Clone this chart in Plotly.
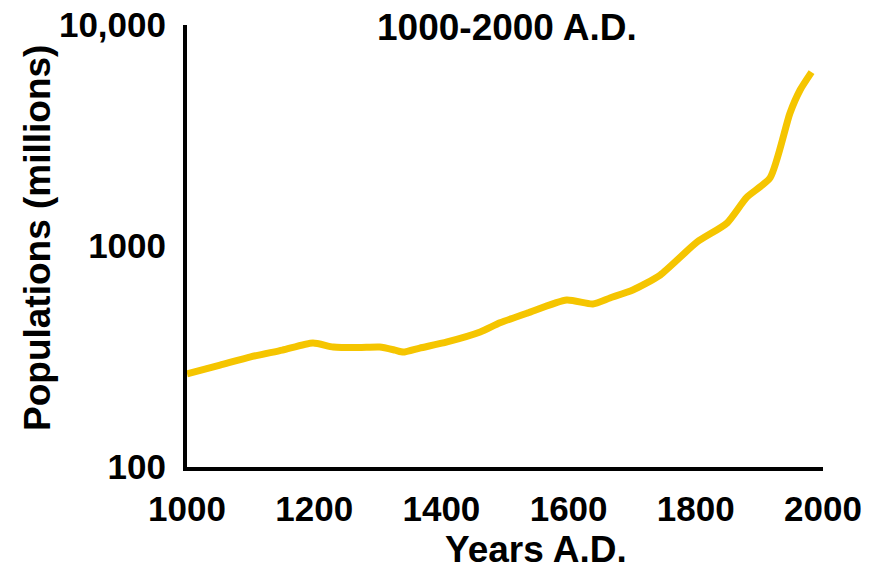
import plotly.graph_objects as go

years = [1000, 1052, 1100, 1150, 1198, 1230, 1270, 1303, 1327, 1340, 1366, 1409, 1461,
         1492, 1535, 1597, 1638, 1665, 1701, 1744, 1802, 1849, 1880, 1917, 1948, 1964, 1982]
population = [264, 289, 315, 338, 364, 349, 347, 349, 338, 331, 345, 368, 408,
              449, 497, 570, 547, 582, 632, 739, 1042, 1270, 1660, 2040, 3990, 5080, 6120]

x_ticks = [1000, 1200, 1400, 1600, 1800, 2000]
y_ticks = [100, 1000, 10000]
y_tick_labels = ["100", "1000", "10,000"]

FONT = "Liberation Sans, Arial, sans-serif"
PAGE = 8  # default page body margin offset
W, H = 886 - PAGE, 569 - PAGE
L, R, T, B = 187 - PAGE, 63, 25 - PAGE, 102


def px_x(px):
    return (px - PAGE - L) / (W - L - R)


def px_y(py):
    return ((H - B) - (py - PAGE)) / (H - T - B)


fig = go.Figure()
fig.add_trace(go.Scatter(
    x=years, y=population, mode="lines",
    line=dict(color="#F5C500", width=7, shape="spline", smoothing=0.6),
    hoverinfo="x+y", showlegend=False,
))

fig.update_layout(
    width=W, height=H,
    margin=dict(l=L, r=R, t=T, b=B, autoexpand=False),
    paper_bgcolor="white", plot_bgcolor="white",
    font=dict(family=FONT, color="black", size=35, weight="bold"),
    annotations=[
        dict(text="<b>1000-2000 A.D.</b>", xref="paper", yref="paper",
             x=px_x(507), y=px_y(28), xanchor="center", yanchor="middle",
             showarrow=False, font=dict(family=FONT, size=37, color="black")),
        dict(text="<b>Years A.D.</b>", xref="paper", yref="paper",
             x=px_x(536), y=px_y(549), xanchor="center", yanchor="middle",
             showarrow=False, font=dict(family=FONT, size=37, color="black")),
        dict(text="<b>Populations (millions)</b>", xref="paper", yref="paper",
             x=px_x(38), y=px_y(238), xanchor="center", yanchor="middle",
             textangle=-90, showarrow=False,
             font=dict(family=FONT, size=37, color="black")),
    ],
)
fig.update_xaxes(
    range=[1000, 2000], tickvals=x_ticks, ticktext=[str(v) for v in x_ticks],
    showgrid=False, zeroline=False, showline=True, linecolor="black", linewidth=4,
    ticks="", ticklabelstandoff=8, automargin=False, ticklabeloverflow="allow",
    tickfont=dict(family=FONT, size=35, color="black", weight="bold"),
)
fig.update_yaxes(
    type="log", range=[2, 4], tickvals=y_ticks, ticktext=y_tick_labels,
    showgrid=False, zeroline=False, showline=True, linecolor="black", linewidth=4,
    ticks="", ticklabelstandoff=10, automargin=False, ticklabeloverflow="allow",
    tickfont=dict(family=FONT, size=35, color="black", weight="bold"),
)

fig.write_html("out.html")
